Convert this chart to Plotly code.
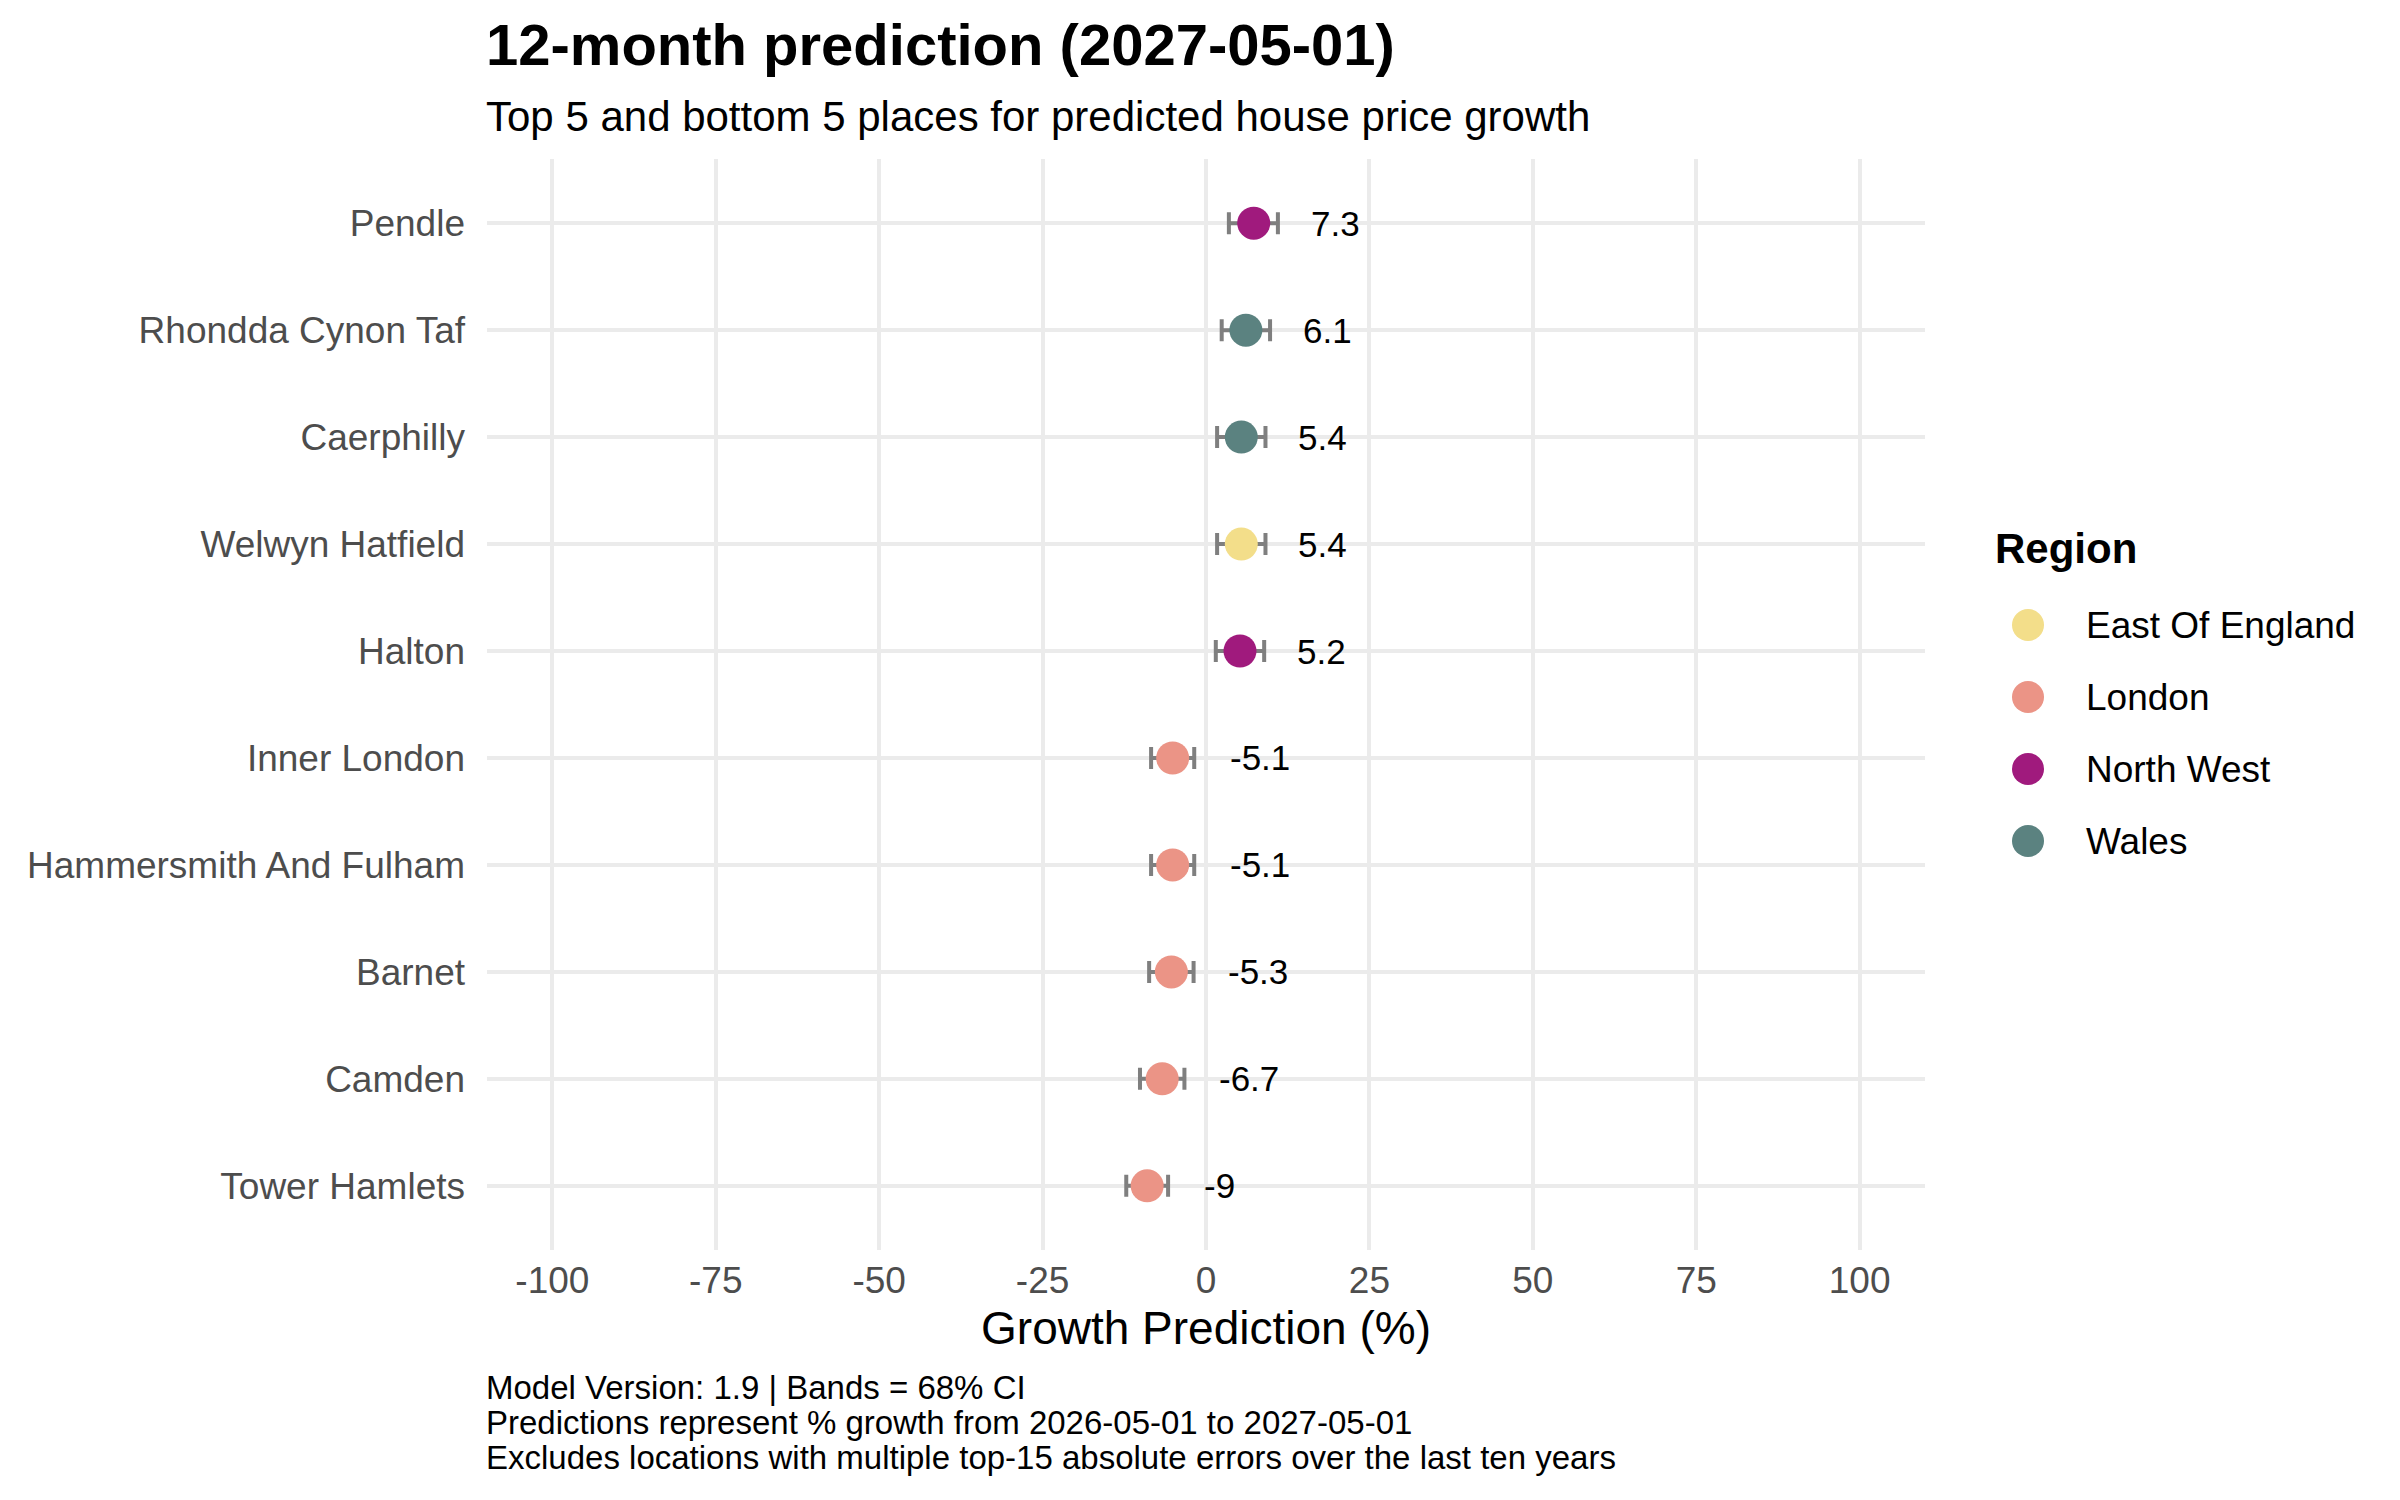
import plotly.graph_objects as go

# data
places = ["Pendle", "Rhondda Cynon Taf", "Caerphilly", "Welwyn Hatfield", "Halton",
          "Inner London", "Hammersmith And Fulham", "Barnet", "Camden", "Tower Hamlets"]
regions = ["North West", "Wales", "Wales", "East Of England", "North West",
           "London", "London", "London", "London", "London"]
growth = [7.3, 6.1, 5.4, 5.4, 5.2, -5.1, -5.1, -5.3, -6.7, -9.0]
ci_low = [3.5, 2.4, 1.7, 1.7, 1.5, -8.4, -8.4, -8.7, -10.1, -12.2]
ci_high = [11.0, 9.8, 9.1, 9.1, 8.9, -1.8, -1.8, -1.9, -3.3, -5.8]

region_order = ["East Of England", "London", "North West", "Wales"]
region_colors = ["#F3DE8A", "#EB9486", "#A01A7D", "#5B8280"]

x_ticks = [-100, -75, -50, -25, 0, 25, 50, 75, 100]

title = "12-month prediction (2027-05-01)"
subtitle = "Top 5 and bottom 5 places for predicted house price growth"
legend_title = "Region"
caption_lines = [
    "Model Version: 1.9 | Bands = 68% CI",
    "Predictions represent % growth from 2026-05-01 to 2027-05-01",
    "Excludes locations with multiple top-15 absolute errors over the last ten years",
]

FONT = "Liberation Sans, Arial, sans-serif"
OFF = 8  # default body margin of the page around the figure
W, H = 2400 - OFF, 1500 - OFF
L, R, T, B = 487 - OFF, 0, 159 - OFF, 250
PW = W - L - R
PH = H - T - B
PANEL_W = 1438


def py(y_page):
    # pixel row on the page -> paper y
    return (H - B - (y_page - OFF)) / PH


def px(x_page):
    # pixel column on the page -> paper x
    return (x_page - OFF - L) / PW


fig = go.Figure()

color_of = dict(zip(region_order, region_colors))
for reg in region_order:
    idx = [i for i, r in enumerate(regions) if r == reg]
    fig.add_trace(go.Scatter(
        x=[growth[i] for i in idx],
        y=[places[i] for i in idx],
        mode="markers",
        marker=dict(size=33, color=color_of[reg], line=dict(width=0)),
        error_x=dict(
            type="data", symmetric=False,
            array=[ci_high[i] - growth[i] for i in idx],
            arrayminus=[growth[i] - ci_low[i] for i in idx],
            color="#7F7F7F", thickness=4, width=11,
        ),
        name=reg,
        showlegend=False,
        hoverinfo="skip",
    ))

# value labels
for p, v in zip(places, growth):
    fig.add_annotation(
        x=v, y=p, text=f"{v:g}", showarrow=False,
        xanchor="left", yanchor="middle", xshift=55,
        font=dict(family=FONT, size=35, color="black"),
    )

# legend drawn on its own small axes so the keys can be full size
fig.add_trace(go.Scatter(
    x=[0] * len(region_order), y=region_order,
    xaxis="x2", yaxis="y2", mode="markers",
    marker=dict(size=32, color=region_colors, line=dict(width=0)),
    showlegend=False, hoverinfo="skip", cliponaxis=False,
))
for reg in region_order:
    fig.add_annotation(
        x=0, y=reg, xref="x2", yref="y2", text=reg, showarrow=False,
        xanchor="left", yanchor="middle", xshift=56,
        font=dict(family=FONT, size=37, color="black"),
    )
fig.add_annotation(
    text=f"<b>{legend_title}</b>", xref="paper", yref="paper",
    x=px(1993), y=py(548), xanchor="left", yanchor="middle", showarrow=False,
    font=dict(family=FONT, size=42, color="black"),
)

# title / subtitle / caption
fig.add_annotation(
    text=f"<b>{title}</b>", xref="paper", yref="paper", x=0, y=py(45),
    xanchor="left", yanchor="middle", showarrow=False, xshift=-3,
    font=dict(family=FONT, size=58, color="black"),
)
fig.add_annotation(
    text=subtitle, xref="paper", yref="paper", x=0, y=py(117),
    xanchor="left", yanchor="middle", showarrow=False, xshift=-3,
    font=dict(family=FONT, size=42, color="black"),
)
for k, line in enumerate(caption_lines):
    fig.add_annotation(
        text=line, xref="paper", yref="paper", x=0, y=py(1387 + 35 * k),
        xanchor="left", yanchor="middle", showarrow=False, xshift=-3,
        font=dict(family=FONT, size=33, color="black"),
    )

fig.update_layout(
    width=W, height=H,
    margin=dict(l=L, r=R, t=T, b=B, autoexpand=False),
    paper_bgcolor="white", plot_bgcolor="white",
    font=dict(family=FONT, color="black"),
    showlegend=False,
    xaxis=dict(
        domain=[0, PANEL_W / PW],
        range=[-110, 110],
        tickvals=x_ticks, ticktext=[str(v) for v in x_ticks],
        showgrid=True, gridcolor="#EBEBEB", gridwidth=4,
        zeroline=False, showline=False, ticks="", ticklen=0,
        tickfont=dict(family=FONT, size=37, color="#4D4D4D"),
        ticklabelstandoff=5,
        title=dict(text="Growth Prediction (%)", standoff=11,
                   font=dict(family=FONT, size=46, color="black")),
        fixedrange=True,
    ),
    yaxis=dict(
        type="category", categoryorder="array", categoryarray=places[::-1],
        range=[-0.6, 9.6],
        showgrid=True, gridcolor="#EBEBEB", gridwidth=4,
        zeroline=False, showline=False, ticks="", ticklen=0,
        tickfont=dict(family=FONT, size=37, color="#4D4D4D"),
        ticklabelstandoff=21,
        fixedrange=True,
    ),
    xaxis2=dict(
        domain=[px(2008), px(2048)], range=[-1, 1], anchor="y2",
        visible=False, fixedrange=True,
    ),
    yaxis2=dict(
        domain=[py(877), py(589)], anchor="x2",
        type="category", categoryorder="array", categoryarray=region_order,
        range=[len(region_order) - 0.5, -0.5],
        visible=False, fixedrange=True,
    ),
)

fig.write_html("out.html")
